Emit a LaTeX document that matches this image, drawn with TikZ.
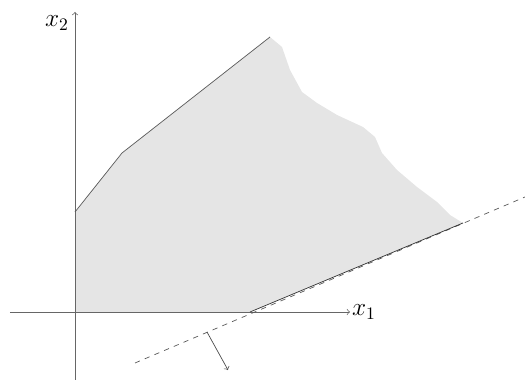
\documentclass[tikz,border=0pt]{standalone}
\begin{document}
\begin{tikzpicture}[>=to, font=\Large]
\useasboundingbox (-1.5,-1.42) rectangle (9.0,6.24);
% feasible region
\fill[gray!20] (0,0) -- (0,2.0) -- (0.94,3.18) -- (3.9,5.5) -- (4.14,5.3) -- (4.3,4.84)
  -- (4.54,4.4) -- (4.84,4.18) -- (5.24,3.94) -- (5.76,3.7) -- (6.0,3.5) -- (6.14,3.18)
  -- (6.44,2.84) -- (6.84,2.5) -- (7.24,2.2) -- (7.5,1.94) -- (7.76,1.78) -- (3.5,0) -- cycle;
% axes
\coordinate (xs) at (-1.3,0);
\coordinate (xe) at (5.5,0);
\coordinate (ys) at (0,-1.36);
\coordinate (ye) at (0,6.0);
\draw[->, gray!80!black] (xs) -- (xe) node[right, inner sep=1pt, black] (xl) {$x_1$};
\draw[->, gray!80!black] (ys) -- (ye);
\node[anchor=east, inner sep=1pt] (yl) at (-0.08,5.78) {$x_2$};
% constraints
\coordinate (a) at (0,2.0);
\coordinate (b) at (0.94,3.18);
\coordinate (c) at (3.9,5.5);
\draw[gray!70!black] (a) -- (b) -- (c);
% objective line
\coordinate (p) at (3.5,0);
\coordinate (q) at (7.76,1.78);
\coordinate (ls) at (1.2,-1.02);
\coordinate (le) at (9.0,2.3);
\draw[dashed, gray!70!black] (ls) -- (le);
\draw[black!80] (p) -- (q);
% direction
\coordinate (d1) at (2.64,-0.4);
\coordinate (d2) at (3.06,-1.16);
\draw[->, gray!60!black] (d1) -- (d2);
\end{tikzpicture}
\end{document}
